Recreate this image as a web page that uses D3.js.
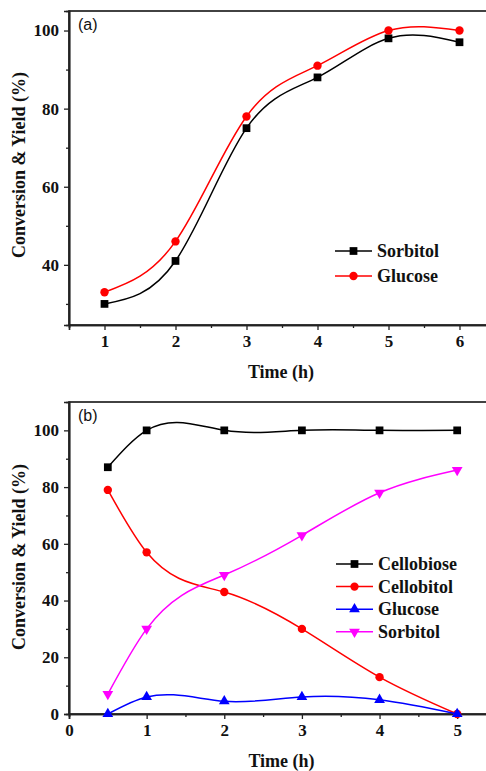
<!DOCTYPE html>
<html><head><meta charset="utf-8">
<script src="https://cdn.jsdelivr.net/npm/d3@7"></script>
<style>body{margin:0;background:#fff}svg{display:block}</style>
</head><body>
<script>
// Panel (a)
const timeA = [1, 2, 3, 4, 5, 6];
const sorbitolA = [30, 41, 75, 88, 98, 97];
const glucoseA = [33, 46, 78, 91, 100, 100];
const ticksXA = [1, 2, 3, 4, 5, 6];
const ticksYA = [40, 60, 80, 100];
// Panel (b)
const timeB = [0.5, 1, 2, 3, 4, 5];
const cellobioseB = [87, 100, 100, 100, 100, 100];
const cellobitolB = [79, 57, 43, 30, 13, 0];
const glucoseB = [0, 6, 4.5, 6, 5, 0];
const sorbitolB = [7, 30, 49, 63, 78, 86];
const ticksXB = [0, 1, 2, 3, 4, 5];
const ticksYB = [0, 20, 40, 60, 80, 100];

const W = 486, H = 771;
const svg = d3.select("body").append("svg").attr("width", W).attr("height", H);
const serif = "'Liberation Serif','Times New Roman',serif";

// Custom d3 curve: natural cubic spline y(x) (x-parameterised), emitted as Béziers.
function SplineX(context) { this._context = context; }
SplineX.prototype = {
  areaStart() { this._line = 0; }, areaEnd() { this._line = NaN; },
  lineStart() { this._x = []; this._y = []; },
  point(x, y) { this._x.push(+x); this._y.push(+y); },
  lineEnd() {
    const X = this._x, Y = this._y, n = X.length, c = this._context;
    if (!n) return;
    c.moveTo(X[0], Y[0]);
    if (n === 2) { c.lineTo(X[1], Y[1]); return; }
    const h = [], M = new Array(n).fill(0);
    for (let i = 0; i < n - 1; i++) h.push(X[i + 1] - X[i]);
    // tridiagonal for interior second derivatives
    const a = [], b = [], cc = [], d = [];
    for (let i = 1; i < n - 1; i++) {
      a.push(h[i - 1]); b.push(2 * (h[i - 1] + h[i])); cc.push(h[i]);
      d.push(6 * ((Y[i + 1] - Y[i]) / h[i] - (Y[i] - Y[i - 1]) / h[i - 1]));
    }
    const m = b.length;
    for (let i = 1; i < m; i++) {
      const w = a[i] / b[i - 1];
      b[i] -= w * cc[i - 1]; d[i] -= w * d[i - 1];
    }
    const sol = new Array(m);
    sol[m - 1] = d[m - 1] / b[m - 1];
    for (let i = m - 2; i >= 0; i--) sol[i] = (d[i] - cc[i] * sol[i + 1]) / b[i];
    for (let i = 0; i < m; i++) M[i + 1] = sol[i];
    const slope = [];
    for (let i = 0; i < n - 1; i++)
      slope.push((Y[i + 1] - Y[i]) / h[i] - h[i] * (2 * M[i] + M[i + 1]) / 6);
    slope.push((Y[n - 1] - Y[n - 2]) / h[n - 2] + h[n - 2] * (M[n - 2] + 2 * M[n - 1]) / 6);
    for (let i = 0; i < n - 1; i++) {
      const t = h[i] / 3;
      c.bezierCurveTo(X[i] + t, Y[i] + slope[i] * t, X[i + 1] - t, Y[i + 1] - slope[i + 1] * t, X[i + 1], Y[i + 1]);
    }
  }
};
const curveSplineX = ctx => new SplineX(ctx);

function symbolFor(kind) {
  if (kind === "square") return d3.symbol().type(d3.symbolSquare).size(60)();
  if (kind === "circle") return d3.symbol().type(d3.symbolCircle).size(55)();
  return d3.symbol().type(d3.symbolTriangle).size(50)();
}

function panel(cfg) {
  const x = d3.scaleLinear().domain(cfg.xd).range([cfg.left, cfg.right]);
  const y = d3.scaleLinear().domain(cfg.yd).range([cfg.bottom, cfg.top]);
  const g = svg.append("g");
  g.append("rect").attr("x", cfg.left).attr("y", cfg.top)
    .attr("width", cfg.right - cfg.left).attr("height", cfg.bottom - cfg.top)
    .attr("fill", "none").attr("stroke", "#222").attr("stroke-width", 1.7);
  const xa = g.append("g").attr("transform", `translate(0,${cfg.bottom})`)
    .call(d3.axisBottom(x).tickValues(cfg.xt).tickSize(5).tickPadding(5).tickFormat(d3.format("d")));
  const xm = g.append("g").attr("transform", `translate(0,${cfg.bottom})`)
    .call(d3.axisBottom(x).tickValues(cfg.xminor).tickSize(3).tickFormat(""));
  const ya = g.append("g").attr("transform", `translate(${cfg.left},0)`)
    .call(d3.axisLeft(y).tickValues(cfg.yt).tickSize(5).tickPadding(5).tickFormat(d3.format("d")));
  const ym = g.append("g").attr("transform", `translate(${cfg.left},0)`)
    .call(d3.axisLeft(y).tickValues(cfg.yminor).tickSize(3).tickFormat(""));
  [xa, xm, ya, ym].forEach(a => {
    a.select(".domain").attr("stroke", "#222").attr("stroke-width", 1.7);
    a.selectAll(".tick line").attr("stroke", "#222").attr("stroke-width", 1.3);
    a.selectAll("text").attr("font-family", serif).attr("font-weight", "bold")
      .attr("font-size", 17).attr("fill", "#111");
  });
  g.append("text").attr("x", (cfg.left + cfg.right) / 2 - 1).attr("y", cfg.xlabelY)
    .attr("text-anchor", "middle").attr("font-family", serif).attr("font-weight", "bold")
    .attr("font-size", 18).attr("fill", "#111").text("Time (h)");
  g.append("text").attr("transform", `translate(${cfg.ylabelX},${cfg.ylabelY}) rotate(-90)`)
    .attr("text-anchor", "middle").attr("font-family", serif).attr("font-weight", "bold")
    .attr("font-size", 18).attr("fill", "#111").text("Conversion & Yield (%)");
  g.append("text").attr("x", cfg.left + 9).attr("y", cfg.top + 19)
    .attr("font-family", "'Liberation Sans',Arial,sans-serif").attr("font-size", 16)
    .attr("fill", "#111").text(cfg.tag);
  const line = d3.line().x(d => x(d[0])).y(d => y(d[1])).curve(curveSplineX);
  cfg.series.forEach((s, i) => {
    const pts = cfg.xs.map((t, j) => [t, s.values[j]]);
    g.append("path").attr("d", line(pts)).attr("fill", "none")
      .attr("stroke", s.color).attr("stroke-width", 1.5);
    g.selectAll(null).data(pts).enter().append("path")
      .attr("d", symbolFor(s.marker))
      .attr("transform", d => `translate(${x(d[0])},${y(d[1])})${s.marker === "tridown" ? " rotate(180)" : ""}`)
      .attr("fill", s.color);
    const ly = cfg.legY + i * cfg.legStep;
    g.append("line").attr("x1", cfg.legX).attr("x2", cfg.legX + 37)
      .attr("y1", ly).attr("y2", ly).attr("stroke", s.color).attr("stroke-width", 1.5);
    g.append("path").attr("d", symbolFor(s.marker))
      .attr("transform", `translate(${cfg.legX + 18.5},${ly})${s.marker === "tridown" ? " rotate(180)" : ""}`)
      .attr("fill", s.color);
    g.append("text").attr("x", cfg.legX + 42).attr("y", ly + 6)
      .attr("font-family", serif).attr("font-weight", "bold").attr("font-size", 18)
      .attr("fill", "#111").text(s.name);
  });
}

panel({
  xd: [0.5, 6.5], yd: [24.6, 105], left: 69, right: 495, top: 11, bottom: 325,
  xt: ticksXA, xminor: d3.range(1.5, 6.5, 1), yt: ticksYA, yminor: [30, 50, 70, 90],
  xs: timeA, tag: "(a)", xlabelY: 378, ylabelX: 25, ylabelY: 165,
  legX: 335, legY: 251, legStep: 25,
  series: [
    { name: "Sorbitol", values: sorbitolA, color: "#000000", marker: "square" },
    { name: "Glucose", values: glucoseA, color: "#ff0000", marker: "circle" }
  ]
});

panel({
  xd: [0, 5.5], yd: [0, 110], left: 69, right: 496, top: 402, bottom: 714,
  xt: ticksXB, xminor: d3.range(0.5, 5.5, 1), yt: ticksYB, yminor: [10, 30, 50, 70, 90],
  xs: timeB, tag: "(b)", xlabelY: 767, ylabelX: 25, ylabelY: 557,
  legX: 336, legY: 564, legStep: 22.6,
  series: [
    { name: "Cellobiose", values: cellobioseB, color: "#000000", marker: "square" },
    { name: "Cellobitol", values: cellobitolB, color: "#ff0000", marker: "circle" },
    { name: "Glucose", values: glucoseB, color: "#0000ff", marker: "tri" },
    { name: "Sorbitol", values: sorbitolB, color: "#ff00ff", marker: "tridown" }
  ]
});
</script>
</body></html>
